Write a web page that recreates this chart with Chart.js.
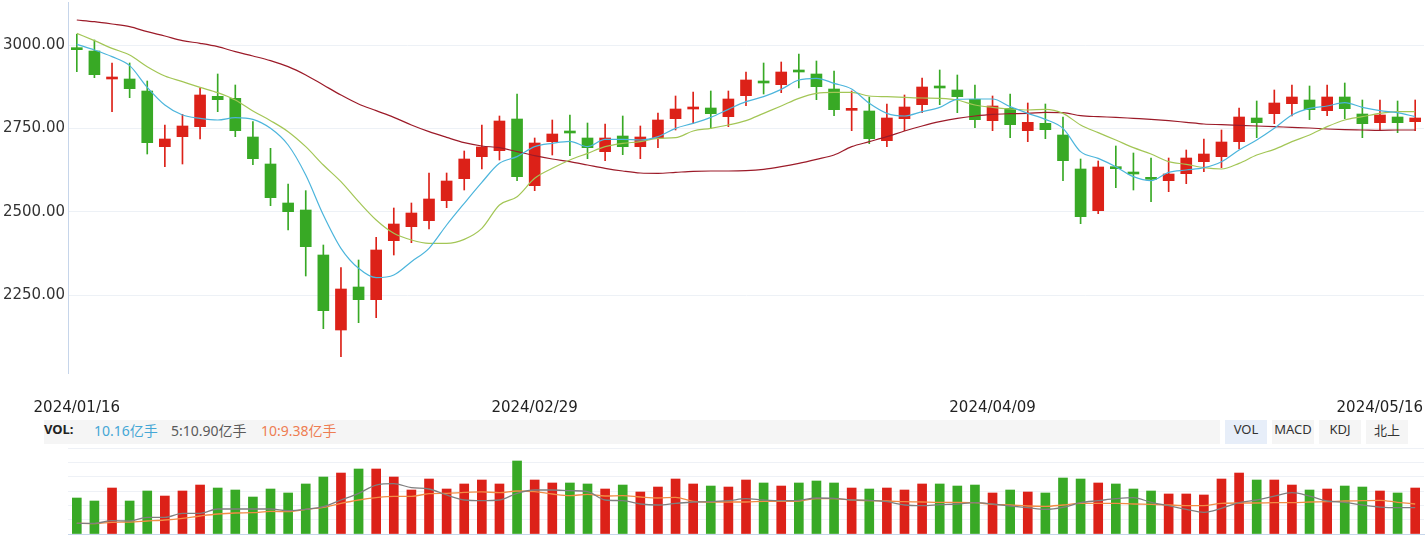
<!DOCTYPE html>
<html lang="zh">
<head>
<meta charset="utf-8">
<title>K线</title>
<script src="https://cdn.jsdelivr.net/npm/chart.js@4.4.1/dist/chart.umd.min.js"></script>
<style>
    html, body { margin: 0; padding: 0; background: #fff; overflow: hidden; }
    #contenedor { position: relative; width: 1427px; height: 536px; }
    #graficoVelas { position: absolute; left: 0; top: 0; }
    #graficoVolumen { position: absolute; left: 0; top: 445px; }
    #barraVol {
        position: absolute; left: 44px; top: 420px; width: 1176px; height: 24px;
        background: #f5f5f5; line-height: 24px; white-space: nowrap;
        font: 14px "Noto Sans", "Noto Sans CJK SC", sans-serif;
    }
    #barraVol b, #barraVol span { position: absolute; top: 0; }
    #barraVol b { left: 0; color: #222; font-size: 13px; }
    .boton {
        position: absolute; top: 420px; width: 42px; height: 24px; line-height: 24px;
        text-align: center; background: #f5f5f5; color: #333;
        font: 13px "Noto Sans", "Noto Sans CJK SC", sans-serif;
    }
    .boton.activo { background: #e7eef9; }
</style>
</head>
<body>
<div id="contenedor">
    <canvas id="graficoVelas" width="1427" height="420"></canvas>
    <div id="barraVol">
        <b>VOL:</b>
        <span id="volActual" style="left:50px;color:#45a7d6"></span>
        <span style="left:127px;color:#5a5a5a">5:10.90亿手</span>
        <span style="left:217px;color:#ee7d52">10:9.38亿手</span>
    </div>
    <div class="boton activo" style="left:1225px">VOL</div>
    <div class="boton" style="left:1272px">MACD</div>
    <div class="boton" style="left:1319px">KDJ</div>
    <div class="boton" style="left:1366px">北上</div>
    <canvas id="graficoVolumen" width="1427" height="91"></canvas>
</div>
<script>
//====================================
// DATOS
//====================================
const fechas = [
    '2024/01/16', '2024/01/17', '2024/01/18', '2024/01/19', '2024/01/22', '2024/01/23', '2024/01/24', '2024/01/25',
    '2024/01/26', '2024/01/29', '2024/01/30', '2024/01/31', '2024/02/01', '2024/02/02', '2024/02/05', '2024/02/06',
    '2024/02/07', '2024/02/08', '2024/02/19', '2024/02/20', '2024/02/21', '2024/02/22', '2024/02/23', '2024/02/26',
    '2024/02/27', '2024/02/28', '2024/02/29', '2024/03/01', '2024/03/04', '2024/03/05', '2024/03/06', '2024/03/07',
    '2024/03/08', '2024/03/11', '2024/03/12', '2024/03/13', '2024/03/14', '2024/03/15', '2024/03/18', '2024/03/19',
    '2024/03/20', '2024/03/21', '2024/03/22', '2024/03/25', '2024/03/26', '2024/03/27', '2024/03/28', '2024/03/29',
    '2024/04/01', '2024/04/02', '2024/04/03', '2024/04/08', '2024/04/09', '2024/04/10', '2024/04/11', '2024/04/12',
    '2024/04/15', '2024/04/16', '2024/04/17', '2024/04/18', '2024/04/19', '2024/04/22', '2024/04/23', '2024/04/24',
    '2024/04/25', '2024/04/26', '2024/04/29', '2024/04/30', '2024/05/06', '2024/05/07', '2024/05/08', '2024/05/09',
    '2024/05/10', '2024/05/13', '2024/05/14', '2024/05/15', '2024/05/16'
];

const aperturas = [
    2988, 2982, 2898, 2898, 2862, 2695, 2725, 2755, 2846, 2840,
    2724, 2643, 2526, 2505, 2370, 2145, 2274, 2236, 2413, 2455,
    2473, 2533, 2599, 2665, 2683, 2778, 2578, 2710, 2738, 2721,
    2680, 2727, 2695, 2721, 2779, 2808, 2811, 2785, 2848, 2888,
    2881, 2921, 2913, 2868, 2804, 2802, 2713, 2779, 2821, 2873,
    2865, 2837, 2773, 2810, 2743, 2765, 2730, 2628, 2503, 2631,
    2615, 2599, 2593, 2614, 2650, 2665, 2710, 2781, 2794, 2824,
    2835, 2803, 2844, 2793, 2767, 2784, 2770
];
const cierres = [
    2986, 2911, 2900, 2869, 2707, 2718, 2757, 2850, 2836, 2743,
    2659, 2542, 2500, 2395, 2203, 2268, 2236, 2385, 2463, 2496,
    2538, 2592, 2658, 2694, 2772, 2605, 2706, 2733, 2736, 2692,
    2721, 2695, 2724, 2775, 2808, 2810, 2794, 2838, 2895, 2886,
    2919, 2919, 2875, 2806, 2806, 2719, 2781, 2814, 2874, 2871,
    2845, 2776, 2817, 2761, 2768, 2746, 2653, 2485, 2634, 2629,
    2613, 2597, 2613, 2661, 2673, 2709, 2784, 2767, 2826, 2844,
    2806, 2844, 2809, 2764, 2790, 2767, 2781
];
const maximos = [
    3032, 3015, 2946, 2946, 2892, 2760, 2792, 2870, 2913, 2880,
    2770, 2690, 2583, 2563, 2400, 2332, 2355, 2423, 2511, 2526,
    2616, 2616, 2682, 2760, 2787, 2853, 2721, 2775, 2790, 2766,
    2763, 2787, 2757, 2796, 2847, 2859, 2862, 2862, 2919, 2946,
    2949, 2973, 2952, 2922, 2862, 2844, 2823, 2850, 2901, 2925,
    2910, 2880, 2847, 2853, 2826, 2823, 2784, 2658, 2652, 2697,
    2676, 2661, 2661, 2685, 2718, 2745, 2811, 2832, 2865, 2880,
    2877, 2880, 2886, 2835, 2835, 2832, 2835
];
const minimos = [
    2920, 2902, 2800, 2842, 2673, 2635, 2643, 2718, 2800, 2725,
    2641, 2518, 2445, 2307, 2149, 2065, 2167, 2182, 2370, 2407,
    2448, 2512, 2565, 2628, 2655, 2593, 2563, 2670, 2668, 2659,
    2653, 2671, 2659, 2692, 2745, 2764, 2749, 2755, 2818, 2853,
    2857, 2871, 2836, 2788, 2743, 2704, 2695, 2743, 2797, 2821,
    2797, 2752, 2743, 2722, 2710, 2719, 2593, 2464, 2494, 2572,
    2565, 2530, 2560, 2584, 2620, 2632, 2688, 2722, 2764, 2787,
    2776, 2788, 2779, 2722, 2743, 2737, 2743
];

// Medias moviles
const ma5 = [
    3002, 2985, 2965, 2938, 2873, 2820, 2790, 2780, 2775, 2782,
    2777, 2750, 2700, 2610, 2490, 2390, 2330, 2302, 2310, 2350,
    2390, 2460, 2525, 2588, 2645, 2665, 2695, 2705, 2711, 2695,
    2717, 2717, 2715, 2725, 2750, 2765, 2783, 2807, 2830, 2845,
    2867, 2895, 2900, 2885, 2868, 2825, 2795, 2787, 2800, 2813,
    2837, 2838, 2838, 2815, 2795, 2777, 2750, 2680, 2660, 2635,
    2605, 2593, 2618, 2625, 2632, 2650, 2685, 2715, 2750, 2790,
    2810, 2817, 2827, 2813, 2803, 2797, 2785
];
const ma10 = [
    3035, 3013, 2990, 2970, 2935, 2907, 2890, 2873, 2857, 2835,
    2802, 2773, 2740, 2695, 2640, 2590, 2530, 2475, 2435, 2415,
    2405, 2405, 2417, 2450, 2520, 2545, 2600, 2630, 2655, 2675,
    2695, 2705, 2710, 2720, 2722, 2742, 2750, 2760, 2773, 2795,
    2817, 2840, 2855, 2858, 2858, 2847, 2845, 2843, 2841, 2840,
    2835, 2820, 2813, 2808, 2805, 2807, 2795, 2760, 2737, 2715,
    2692, 2673, 2650, 2642, 2632, 2628, 2645, 2670, 2687, 2710,
    2730, 2755, 2775, 2785, 2795, 2800, 2800
];
const ma60 = [
    3075, 3070, 3063, 3055, 3040, 3027, 3013, 3005, 2995, 2980,
    2967, 2953, 2935, 2910, 2880, 2850, 2823, 2803, 2783, 2760,
    2740, 2723, 2707, 2697, 2692, 2680, 2668, 2658, 2650, 2640,
    2630, 2622, 2616, 2615, 2618, 2621, 2622, 2622, 2623, 2627,
    2635, 2645, 2657, 2670, 2695, 2710, 2725, 2742, 2757, 2770,
    2780, 2787, 2792, 2794, 2795, 2798, 2797, 2788, 2785, 2783,
    2780, 2777, 2773, 2768, 2763, 2761, 2759, 2757, 2755, 2753,
    2751, 2748, 2746, 2745, 2744, 2745, 2745
];

// Volumen en 亿手
const volumenes = [
    7.95, 7.29, 10.16, 7.29, 9.50, 8.39, 9.50, 10.82, 10.16, 9.72,
    8.17, 9.94, 9.06, 11.05, 12.59, 13.47, 14.36, 14.36, 12.59, 9.72,
    12.15, 9.94, 11.05, 11.93, 11.05, 16.13, 11.93, 11.27, 11.27, 11.05,
    9.94, 10.82, 9.28, 10.38, 12.15, 11.05, 10.60, 10.38, 11.93, 11.27,
    10.60, 11.27, 11.71, 11.27, 10.16, 9.94, 10.16, 9.72, 11.05, 11.05,
    10.60, 10.82, 9.06, 9.72, 9.28, 9.06, 12.37, 12.15, 11.27, 11.05,
    9.94, 9.50, 8.84, 8.84, 8.62, 12.15, 13.47, 11.93, 11.93, 10.82,
    9.72, 9.94, 10.60, 10.38, 9.50, 9.06, 10.16
];
const volMa5 = [
    2.36, 2.36, 2.94, 2.87, 3.68, 3.68, 4.56, 4.56, 5.52, 5.52,
    5.52, 5.52, 5.15, 5.45, 6.04, 7.51, 8.98, 10.82, 11.12, 10.24,
    9.94, 8.62, 7.51, 7.36, 7.51, 8.98, 9.72, 9.72, 9.57, 9.35,
    7.51, 7.36, 6.63, 6.41, 6.77, 7.07, 7.14, 7.36, 7.80, 7.51,
    7.36, 7.44, 7.95, 7.88, 7.51, 7.44, 7.14, 6.41, 6.26, 6.48,
    6.63, 6.92, 6.63, 6.19, 5.82, 5.45, 5.89, 6.92, 7.36, 7.80,
    8.03, 7.00, 6.26, 5.45, 4.79, 5.67, 6.92, 7.51, 8.39, 9.13,
    8.39, 7.29, 7.00, 6.41, 5.96, 5.82, 5.82
];
const volMa10 = [
    2.36, 2.28, 2.58, 2.65, 2.87, 3.09, 3.46, 3.98, 4.42, 4.64,
    4.71, 5.01, 4.93, 5.45, 5.89, 6.77, 7.51, 8.03, 8.32, 8.32,
    8.91, 8.98, 9.20, 9.32, 9.13, 9.50, 9.35, 8.84, 8.47, 8.76,
    8.39, 8.47, 8.17, 7.95, 8.10, 7.22, 7.07, 7.07, 7.07, 7.22,
    7.22, 7.29, 7.80, 7.80, 7.51, 7.36, 7.29, 7.14, 7.07, 7.00,
    7.00, 6.92, 6.56, 6.41, 6.19, 6.11, 6.41, 6.77, 6.77, 6.77,
    6.63, 6.56, 6.41, 6.26, 6.26, 6.77, 6.85, 6.85, 6.92, 6.92,
    7.07, 7.14, 7.29, 7.36, 7.44, 7.00, 6.63
];

const ticksPrecio = [2250, 2500, 2750, 3000];
const ticksFecha = ['2024/01/16', '2024/02/29', '2024/04/09', '2024/05/16'];

//====================================
// COLORES
//====================================
const ROJO = '#dc2118';
const VERDE = '#38a925';
const colorVela = aperturas.map((a, i) => (cierres[i] >= a ? ROJO : VERDE));

//====================================
// GRAFICO DE VELAS
//====================================
document.addEventListener('DOMContentLoaded', function () {
    document.getElementById('volActual').textContent = volumenes[volumenes.length - 1].toFixed(2) + '亿手';

    // Etiquetas de fecha bajo el grafico (la ultima se ajusta al borde)
    const etiquetasFecha = {
        id: 'etiquetasFecha',
        afterDraw(chart) {
            const ctx = chart.ctx;
            const x = chart.scales.x;
            ctx.save();
            ctx.font = '15px "DejaVu Sans"';
            ctx.fillStyle = '#222';
            ctx.textBaseline = 'middle';
            ticksFecha.forEach(function (f) {
                const i = fechas.indexOf(f);
                const w = ctx.measureText(f).width;
                let cx = x.getPixelForValue(i);
                cx = Math.min(Math.max(cx, w / 2 + 2), chart.width - w / 2 - 4);
                ctx.fillText(f, cx - w / 2, 408);
            });
            ctx.restore();
        }
    };

    const ctxVelas = document.getElementById('graficoVelas');
    new Chart(ctxVelas, {
        type: 'bar',
        data: {
            labels: fechas,
            datasets: [
                { type: 'line', data: ma5, borderColor: '#4cb5dc', borderWidth: 1.2, pointRadius: 0, cubicInterpolationMode: 'monotone', order: 0 },
                { type: 'line', data: ma10, borderColor: '#a3c656', borderWidth: 1.2, pointRadius: 0, cubicInterpolationMode: 'monotone', order: 0 },
                { type: 'line', data: ma60, borderColor: '#9c1b29', borderWidth: 1.2, pointRadius: 0, cubicInterpolationMode: 'monotone', order: 0 },
                {
                    data: aperturas.map((a, i) => [a, cierres[i]]),
                    backgroundColor: colorVela, barThickness: 11, minBarLength: 2, grouped: false, order: 1
                },
                {
                    data: minimos.map((m, i) => [m, maximos[i]]),
                    backgroundColor: colorVela, barThickness: 1, grouped: false, order: 2
                }
            ]
        },
        options: {
            responsive: false,
            animation: false,
            layout: { padding: { top: 2, right: 3, left: 0, bottom: 0 } },
            plugins: { legend: { display: false }, tooltip: { enabled: false } },
            scales: {
                x: {
                    offset: true,
                    grid: { display: false },
                    border: { display: false },
                    ticks: { display: false },
                    afterFit: function (a) { a.height = 47; a.paddingLeft = 0; a.paddingRight = 0; }
                },
                y: {
                    min: 2016,
                    max: 3129,
                    afterBuildTicks: function (a) { a.ticks = ticksPrecio.map(v => ({ value: v })); },
                    grid: { color: '#edf1f6', drawTicks: false },
                    border: { display: true, color: '#c6d5ea' },
                    ticks: {
                        padding: 3,
                        color: '#333',
                        font: { family: 'DejaVu Sans', size: 15 },
                        callback: v => Number(v).toFixed(2)
                    },
                    afterFit: function (a) { a.width = 68; a.paddingTop = 0; a.paddingBottom = 0; }
                }
            }
        },
        plugins: [etiquetasFecha]
    });

    //====================================
    // GRAFICO DE VOLUMEN
    //====================================
    const ctxVol = document.getElementById('graficoVolumen');
    new Chart(ctxVol, {
        type: 'bar',
        data: {
            labels: fechas,
            datasets: [
                { type: 'line', data: volMa5, borderColor: '#7f7f7f', borderWidth: 1.3, pointRadius: 0, cubicInterpolationMode: 'monotone', order: 0 },
                { type: 'line', data: volMa10, borderColor: '#f28c45', borderWidth: 1.3, pointRadius: 0, cubicInterpolationMode: 'monotone', order: 0 },
                { data: volumenes, backgroundColor: colorVela, barThickness: 9, order: 1 }
            ]
        },
        options: {
            responsive: false,
            animation: false,
            layout: { padding: { top: 3, right: 3, left: 0, bottom: 0 } },
            plugins: { legend: { display: false }, tooltip: { enabled: false } },
            scales: {
                x: {
                    offset: true,
                    grid: { display: false },
                    border: { display: true, color: '#c6d5ea' },
                    ticks: { display: false },
                    afterFit: function (a) { a.height = 2; }
                },
                y: {
                    min: 0,
                    max: 19,
                    ticks: { display: false, count: 7 },
                    grid: { color: '#eef1f6', drawTicks: false },
                    border: { display: false },
                    afterFit: function (a) { a.width = 68; }
                }
            }
        }
    });
});
</script>
</body>
</html>
